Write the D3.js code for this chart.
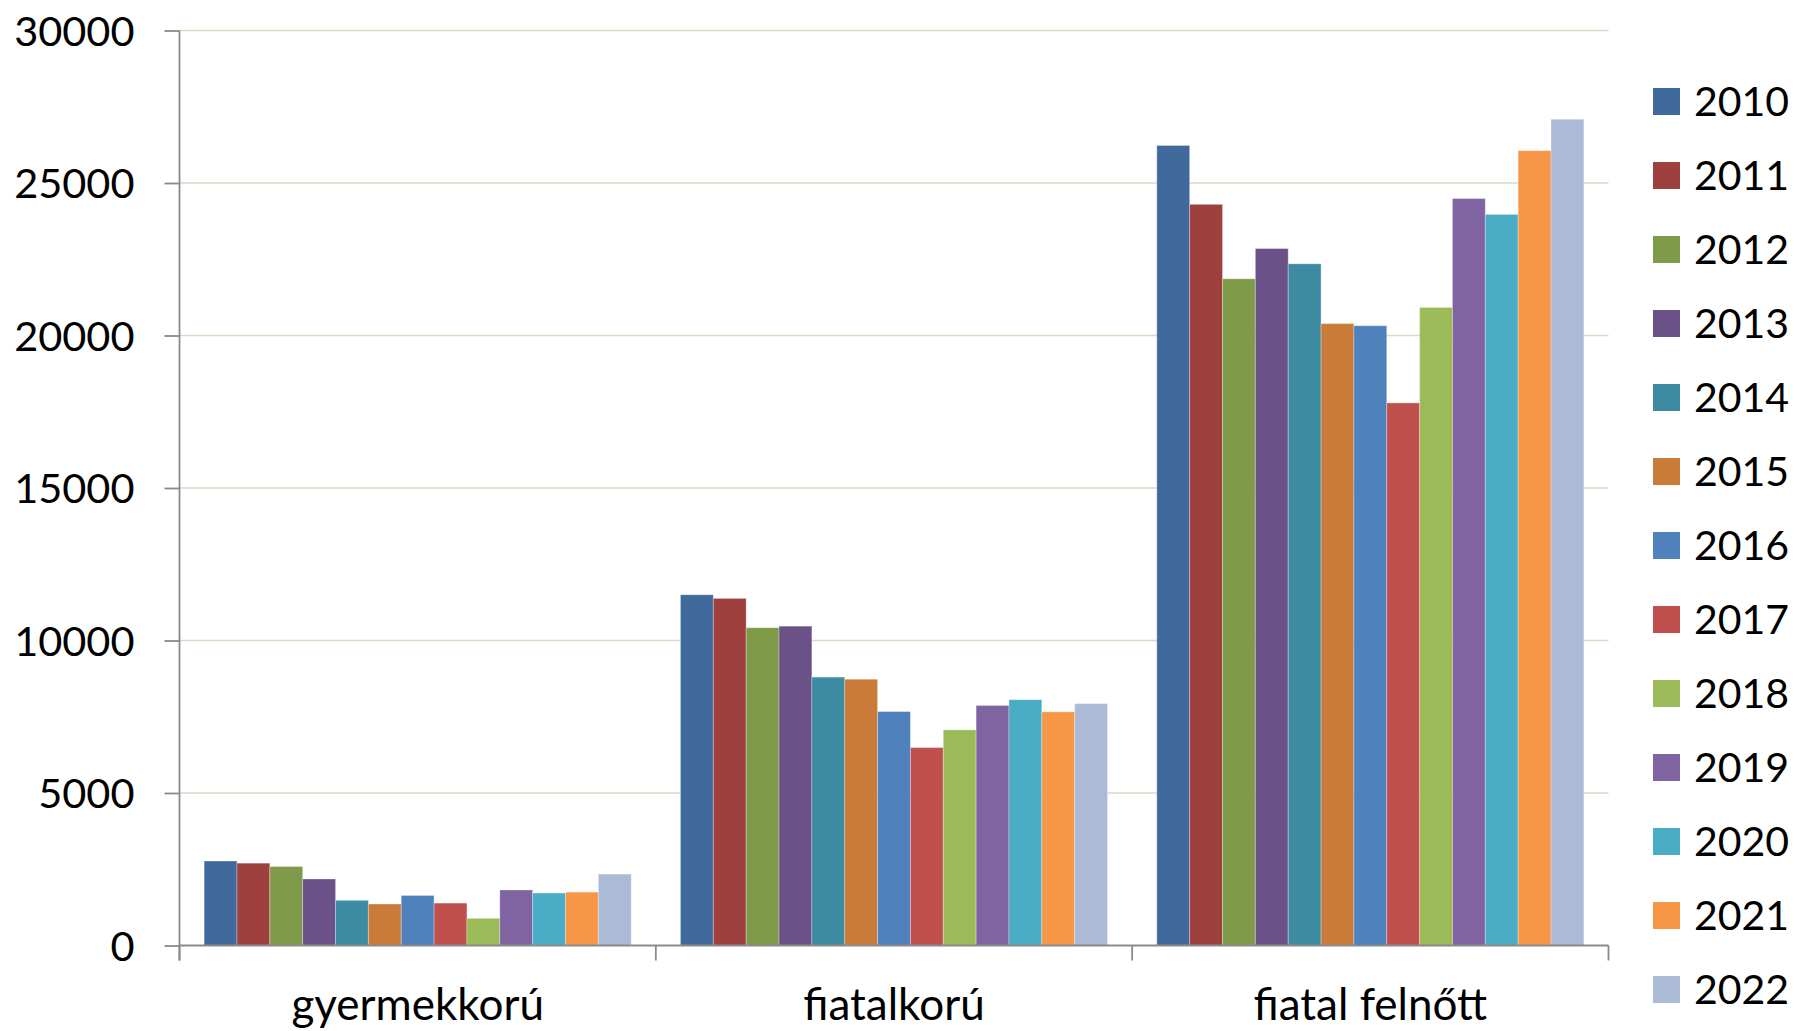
<!DOCTYPE html>
<html>
<head>
<meta charset="utf-8">
<script src="https://cdn.jsdelivr.net/npm/d3@7"></script>
<style>
  body { margin: 0; background: #fff; }
  text { font-family: Lato, "Open Sans", sans-serif; fill: #000; }
</style>
</head>
<body>
<div id="chart"></div>
<script>
const width = 1794;
const height = 1031;

const categories = ["gyermekkorú", "fiatalkorú", "fiatal felnőtt"];
const years = ["2010", "2011", "2012", "2013", "2014", "2015", "2016", "2017", "2018", "2019", "2020", "2021", "2022"];

// values per year, in category order
const values2010 = [2770, 11500, 26230];
const values2011 = [2700, 11380, 24300];
const values2012 = [2590, 10420, 21860];
const values2013 = [2180, 10470, 22850];
const values2014 = [1480, 8800, 22350];
const values2015 = [1360, 8730, 20390];
const values2016 = [1640, 7670, 20320];
const values2017 = [1390, 6490, 17790];
const values2018 = [890, 7070, 20920];
const values2019 = [1820, 7870, 24490];
const values2020 = [1720, 8060, 23970];
const values2021 = [1750, 7660, 26060];
const values2022 = [2340, 7930, 27090];

const yTicks = [0, 5000, 10000, 15000, 20000, 25000, 30000];

const colors = ["#416a9c", "#9e403e", "#7f9a48", "#6a5187", "#3c8ba3", "#cb7b39",
  "#4f81bd", "#c0504d", "#9bbb59", "#8064a2", "#4bacc6", "#f79646", "#aabad7"];

const series = [values2010, values2011, values2012, values2013, values2014, values2015,
  values2016, values2017, values2018, values2019, values2020, values2021, values2022];

const plot = { left: 179.5, right: 1608.5, top: 30.5, bottom: 945.5 };

const svg = d3.select("#chart")
  .append("svg")
  .attr("width", width)
  .attr("height", height);

const x0 = d3.scaleBand().domain(categories).range([plot.left, plot.right]).padding(0);
const x1 = d3.scaleBand().domain(years).range([0, x0.bandwidth()])
  .paddingInner(0).paddingOuter(0.75);
const y = d3.scaleLinear().domain([0, 30000]).range([plot.bottom, plot.top]);
const color = d3.scaleOrdinal().domain(years).range(colors);

// gridlines
svg.append("g")
  .selectAll("line")
  .data(yTicks.filter(d => d > 0))
  .join("line")
  .attr("x1", plot.left)
  .attr("x2", plot.right)
  .attr("y1", d => y(d))
  .attr("y2", d => y(d))
  .attr("stroke", "#dcd9c5")
  .attr("stroke-width", 1.6);

// bars
const rows = [];
categories.forEach((c, ci) => {
  years.forEach((yr, yi) => rows.push({ cat: c, year: yr, value: series[yi][ci] }));
});

svg.append("g")
  .selectAll("rect")
  .data(rows)
  .join("rect")
  .attr("x", d => x0(d.cat) + x1(d.year))
  .attr("y", d => y(d.value))
  .attr("width", x1.bandwidth())
  .attr("height", d => y(0) - y(d.value))
  .attr("fill", d => color(d.year))
  .attr("stroke", "rgba(255,255,255,0.3)")
  .attr("stroke-width", 1);

// y axis
const yAxis = svg.append("g")
  .attr("transform", `translate(${plot.left},0)`)
  .call(d3.axisLeft(y).tickValues(yTicks).tickSize(15).tickPadding(30).tickFormat(d3.format("d")));
yAxis.select(".domain").attr("stroke", "#8a8a8a").attr("stroke-width", 1.8)
  .attr("d", `M0,${plot.top}V${plot.bottom + 15}`);
yAxis.selectAll(".tick line").attr("stroke", "#8a8a8a").attr("stroke-width", 1.8);
yAxis.selectAll(".tick text").style("font-size", "41.5px").attr("dy", "0.36em");

// x axis
const xAxis = svg.append("g")
  .attr("transform", `translate(0,${plot.bottom})`)
  .call(d3.axisBottom(x0).tickSize(0).tickPadding(43));
xAxis.select(".domain").attr("stroke", "#8a8a8a").attr("stroke-width", 1.8)
  .attr("d", `M${plot.left},0H${plot.right}`);
xAxis.selectAll(".tick text").style("font-size", "44px");

const bounds = categories.map(c => x0(c)).concat([plot.right]);
xAxis.selectAll(".bound")
  .data(bounds)
  .join("line")
  .attr("class", "bound")
  .attr("x1", d => d)
  .attr("x2", d => d)
  .attr("y1", 0)
  .attr("y2", 15)
  .attr("stroke", "#8a8a8a")
  .attr("stroke-width", 1.8);

// legend
const legend = svg.append("g")
  .attr("transform", "translate(1653,101.5)");

const item = legend.selectAll("g")
  .data(years)
  .join("g")
  .attr("transform", (d, i) => `translate(0,${i * 74})`);

item.append("rect")
  .attr("x", 0)
  .attr("y", -13.5)
  .attr("width", 27)
  .attr("height", 27)
  .attr("fill", d => color(d));

item.append("text")
  .attr("x", 41)
  .attr("dy", "0.36em")
  .style("font-size", "41px")
  .text(d => d);
</script>
</body>
</html>
